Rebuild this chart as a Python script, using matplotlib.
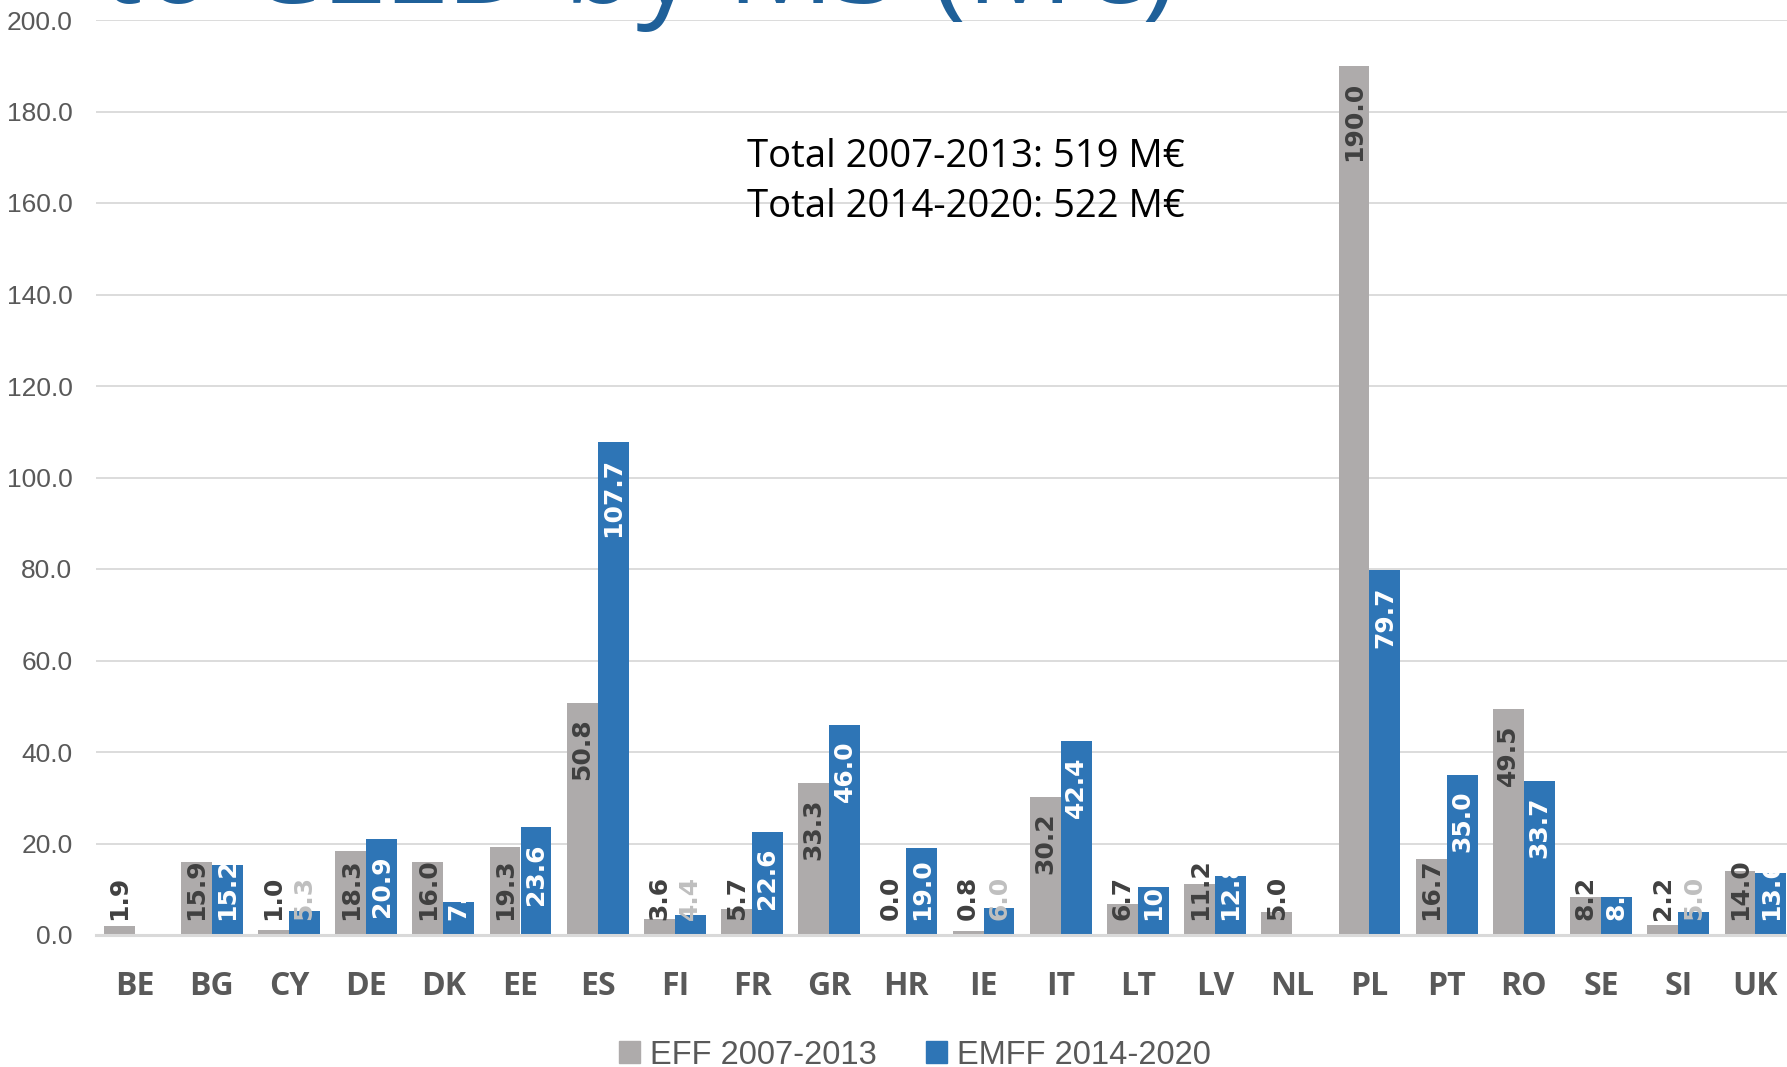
import numpy as np
import matplotlib.pyplot as plt
from matplotlib.patches import Patch

# data
countries = ['BE', 'BG', 'CY', 'DE', 'DK', 'EE', 'ES', 'FI', 'FR', 'GR', 'HR',
             'IE', 'IT', 'LT', 'LV', 'NL', 'PL', 'PT', 'RO', 'SE', 'SI', 'UK']
eff_2007_2013 = [1.9, 15.9, 1.0, 18.3, 16.0, 19.3, 50.8, 3.6, 5.7, 33.3, 0.0,
                 0.8, 30.2, 6.7, 11.2, 5.0, 190.0, 16.7, 49.5, 8.2, 2.2, 14.0]
emff_2014_2020 = [np.nan, 15.2, 5.3, 20.9, 7.3, 23.6, 107.7, 4.4, 22.6, 46.0, 19.0,
                  6.0, 42.4, 10.4, 12.8, np.nan, 79.7, 35.0, 33.7, 8.3, 5.0, 13.6]
faded_labels = ['CY', 'FI', 'IE', 'SI']   # blue-bar labels drawn in light grey
series_names = ['EFF 2007-2013', 'EMFF 2014-2020']
totals_text = 'Total 2007-2013: 519 M€\nTotal 2014-2020: 522 M€'
title_text = 'to CLLD by MS (M€)'

GREY = '#AEABAB'
BLUE = '#2E75B6'
TXT = '#595959'
SANS = ['Liberation Sans', 'DejaVu Sans']
OPEN = ['Open Sans', 'DejaVu Sans']

W, H = 1787, 1067
fig = plt.figure(figsize=(W / 100, H / 100), dpi=100)
ax = fig.add_axes([96 / W, (H - 935) / H, 1698 / W, 915 / H])

x = np.arange(len(countries))
bw = 0.4
ax.bar(x - bw / 2, eff_2007_2013, bw, color=GREY, zorder=2)
ax.bar(x + bw / 2, emff_2014_2020, bw, color=BLUE, zorder=2)

ax.set_xlim(-0.5, len(countries) - 0.5)
ax.set_ylim(0, 200)
ax.set_yticks(np.arange(0, 201, 20))
ax.set_yticklabels(['%.1f' % v for v in np.arange(0, 201, 20)],
                   family=SANS, fontsize=19, color=TXT)
ax.set_xticks(x)
ax.set_xticklabels(countries, family=OPEN, fontsize=23,
                   fontweight='bold', color=TXT)
ax.tick_params(axis='y', length=0, pad=17)
ax.tick_params(axis='x', length=0, pad=25)
ax.grid(axis='y', color='#D9D9D9', linewidth=1.3, zorder=0)
for s in ['left', 'right', 'top']:
    ax.spines[s].set_visible(False)
ax.spines['bottom'].set_color('#D9D9D9')
ax.spines['bottom'].set_linewidth(2.2)
ax.spines['bottom'].set_zorder(3)

# rotated value labels, "inside end" style
labels = []
for i, c in enumerate(countries):
    for v, off, col in [(eff_2007_2013[i], -bw / 2, '#404040'),
                        (emff_2014_2020[i], bw / 2, 'white')]:
        if np.isnan(v):
            continue
        if col == 'white' and c in faded_labels:
            col = '#BFBFBF'
        t = ax.annotate('%.1f' % v, (i + off, v), xytext=(0, -11.5),
                        textcoords='offset points', rotation=90,
                        ha='center', va='top', fontsize=18, fontweight='bold',
                        color=col, family='DejaVu Sans', zorder=4,
                        annotation_clip=False)
        labels.append((t, i + off))

# labels that would run past the base get pushed up from the axis instead
fig.canvas.draw()
base = ax.transData.transform((0, 0))[1]
for t, xi in labels:
    bb = t.get_window_extent()
    if bb.y0 < base + 15:
        t.xy = (xi, 0)
        t.set_position((0, 10.8))
        t.set_va('bottom')

fig.text(747 / W, 1 - 182 / H, totals_text, ha='left', va='center',
         fontsize=27.5, family=OPEN, color='black', linespacing=1.38)

fig.text(100 / W, 1 - 3 / H, title_text, ha='left', va='baseline',
         fontsize=86, color='#1F6099', family=OPEN)

handles = [Patch(color=GREY), Patch(color=BLUE)]
fig.legend(handles, series_names, loc='center', ncol=2,
           bbox_to_anchor=(915 / W, 1 - 1055 / H), frameon=False,
           prop={'family': SANS, 'size': 23.5}, labelcolor=TXT,
           handlelength=0.65, handleheight=0.65, handletextpad=0.3,
           columnspacing=1.5)

fig.savefig('out.png', dpi=100)
